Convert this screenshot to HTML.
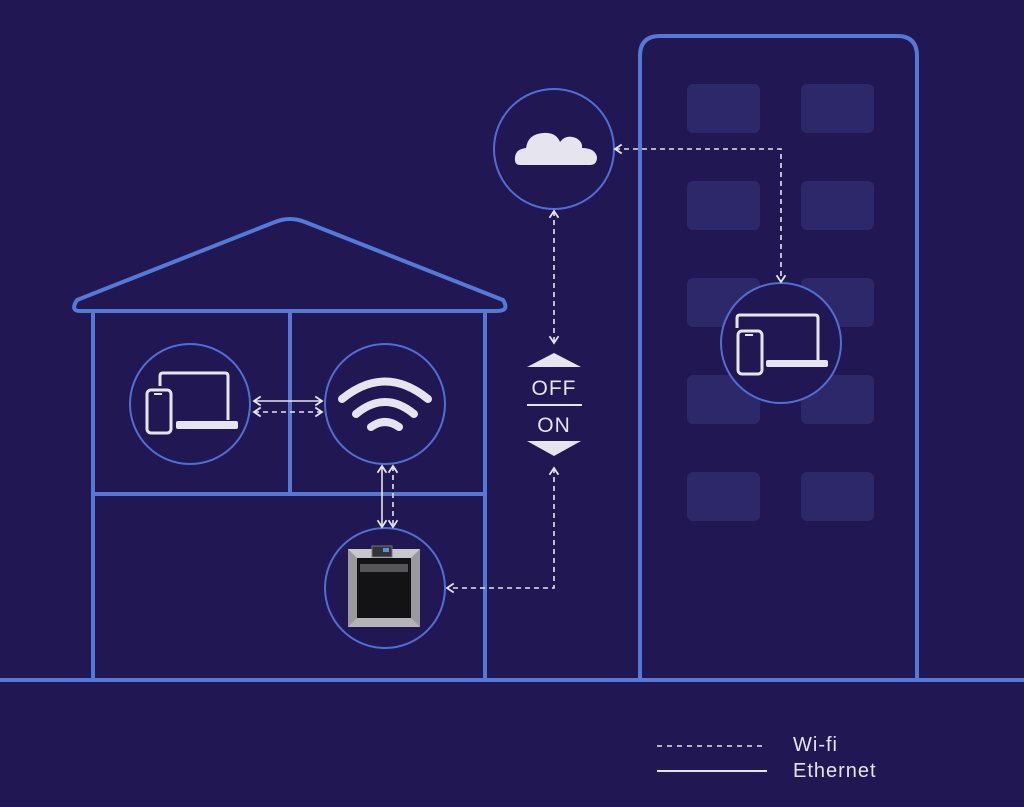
<!DOCTYPE html>
<html><head><meta charset="utf-8"><style>
html,body{margin:0;padding:0;background:#211752;}
svg{display:block}
text{font-family:"Liberation Sans",sans-serif;fill:#e6e4ee}
</style></head><body>
<svg width="1024" height="807" viewBox="0 0 1024 807" xmlns="http://www.w3.org/2000/svg">
<rect width="1024" height="807" fill="#211752"/>
<defs>
<marker id="a" viewBox="0 0 10 10" refX="8" refY="5" markerWidth="7" markerHeight="7" orient="auto-start-reverse"><path d="M2 1 L8 5 L2 9" fill="none" stroke="#e6e4ee" stroke-width="1.6"/></marker>
</defs>
<!-- building windows -->
<g fill="#2d286a">
<rect x="687" y="84" width="73" height="49" rx="6"/><rect x="801" y="84" width="73" height="49" rx="6"/>
<rect x="687" y="181" width="73" height="49" rx="6"/><rect x="801" y="181" width="73" height="49" rx="6"/>
<rect x="687" y="278" width="73" height="49" rx="6"/><rect x="801" y="278" width="73" height="49" rx="6"/>
<rect x="687" y="375" width="73" height="49" rx="6"/><rect x="801" y="375" width="73" height="49" rx="6"/>
<rect x="687" y="472" width="73" height="49" rx="6"/><rect x="801" y="472" width="73" height="49" rx="6"/>
</g>
<g fill="none" stroke="#5479d6" stroke-width="4" stroke-linejoin="round">
<path d="M640 680 V56 Q640 36 660 36 H897 Q917 36 917 56 V680"/>
<path d="M80 311 H497 Q510 311 503 300 L305 222 Q290 216 275 222 L77 300 Q70 311 80 311 Z"/>
<path d="M93 312 V680 M485 312 V680 M93 494 H485 M290 312 V494"/>
<path d="M0 680 H1024"/>
</g>
<!-- circles -->
<g fill="#211752" stroke="#4f6fd6" stroke-width="2">
<circle cx="190" cy="404" r="60"/><circle cx="385" cy="404" r="60"/>
<circle cx="385" cy="588" r="60"/><circle cx="554" cy="149" r="60"/>
<circle cx="781" cy="343" r="60"/>
</g>
<!-- connectors -->
<g stroke="#e6e4ee" stroke-width="1.6" fill="none">
<line x1="254" y1="401" x2="322" y2="401" marker-start="url(#a)" marker-end="url(#a)"/>
<line x1="254" y1="412" x2="322" y2="412" stroke-dasharray="5 4" marker-start="url(#a)" marker-end="url(#a)"/>
<line x1="382" y1="466" x2="382" y2="527" marker-start="url(#a)" marker-end="url(#a)"/>
<line x1="393" y1="466" x2="393" y2="527" stroke-dasharray="5 4" marker-start="url(#a)" marker-end="url(#a)"/>
<line x1="554" y1="211" x2="554" y2="343" stroke-dasharray="5 4" marker-start="url(#a)" marker-end="url(#a)"/>
<path d="M554 468 V588 H447" stroke-dasharray="5 4" marker-start="url(#a)" marker-end="url(#a)"/>
<path d="M615 149 H781 V282" stroke-dasharray="5 4" marker-start="url(#a)" marker-end="url(#a)"/>
<line x1="657" y1="746" x2="767" y2="746" stroke-dasharray="5 5"/>
<line x1="657" y1="771" x2="767" y2="771" stroke-width="2"/>
</g>
<!-- OFF/ON -->
<g fill="#e6e4ee">
<path d="M527 367 L554 353 L581 367 Z"/>
<rect x="527" y="404" width="55" height="2"/>
<path d="M527 441 L581 441 L554 456 Z"/>
</g>
<text x="554" y="395" font-size="21" text-anchor="middle" letter-spacing="1">OFF</text>
<text x="554" y="432" font-size="21" text-anchor="middle" letter-spacing="1">ON</text>
<text x="793" y="751" font-size="20" letter-spacing="1">Wi-fi</text>
<text x="793" y="777" font-size="20" letter-spacing="1">Ethernet</text>
<!-- device icons -->
<g fill="none" stroke="#e6e4ee" stroke-width="3" stroke-linejoin="round">
<path d="M160 386 V376 Q160 373 163 373 H225 Q228 373 228 376 V420"/>
<rect x="147" y="390" width="24" height="43" rx="4"/>
<path d="M737 328 V318 Q737 315 740 315 H815 Q818 315 818 318 V360"/>
<rect x="738" y="331" width="24" height="43" rx="4"/>
</g>
<g fill="#e6e4ee">
<rect x="176" y="421" width="62" height="8" rx="2"/>
<rect x="766" y="360" width="62" height="7" rx="2"/>
<rect x="154" y="393" width="8" height="2"/>
<rect x="745" y="334" width="8" height="2"/>
<!-- cloud -->
<path d="M520 165 Q514 165 515 157 Q516 149 526 148 Q528 134 543 133 Q556 132 560 142 Q566 134 576 138 Q583 142 582 148 Q595 148 597 157 Q597 165 590 165 Z"/>
</g>
<!-- wifi -->
<g fill="none" stroke="#e6e4ee" stroke-linecap="round" stroke-width="8">
<path d="M342 399 Q385 364 428 399"/>
<path d="M356 414 Q385 390 414 414"/>
<path d="M371 427 Q385 417 399 427"/>
</g>
<!-- printer -->
<g>
<rect x="348" y="549" width="72" height="78" fill="#9a9a9e"/>
<path d="M348 549 L420 549 L411 558 L357 558 Z" fill="#c8c8cc"/>
<path d="M348 627 L420 627 L411 618 L357 618 Z" fill="#b5b5b9"/>
<rect x="357" y="558" width="54" height="60" fill="#131316"/>
<rect x="360" y="564" width="48" height="8" fill="#55555a"/>
<rect x="372" y="546" width="20" height="11" fill="#333338" stroke="#777" stroke-width="1"/>
<rect x="383" y="548" width="6" height="4" fill="#5d8fe0"/>
</g>
</svg>
</body></html>
